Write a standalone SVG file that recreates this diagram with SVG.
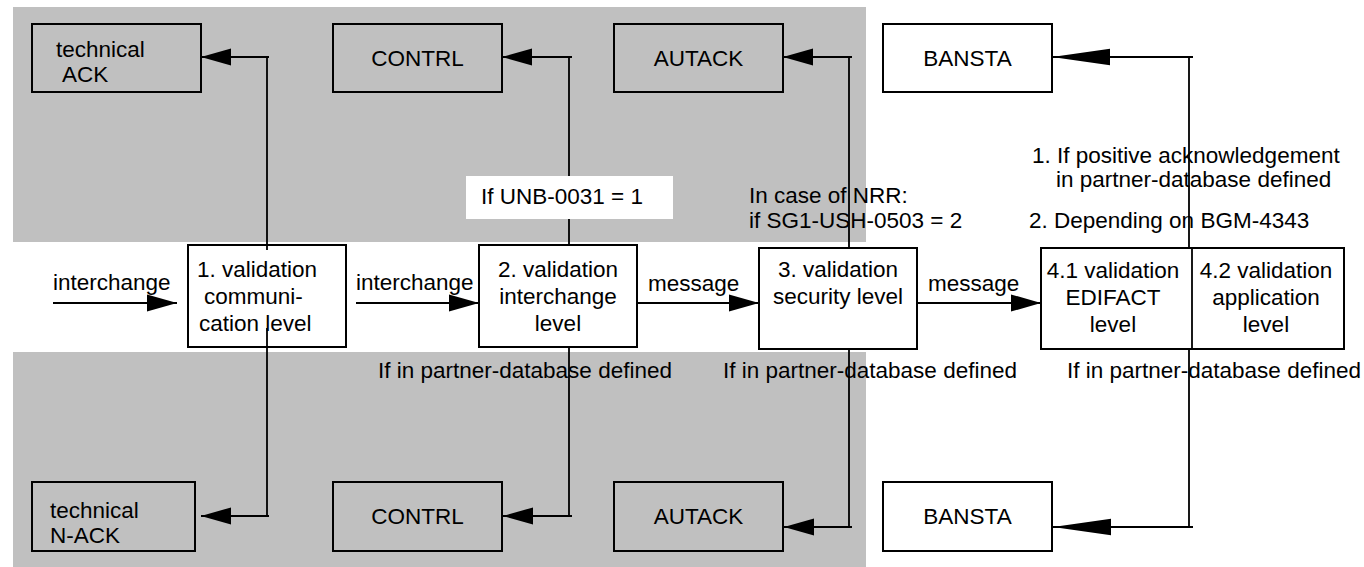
<svg xmlns="http://www.w3.org/2000/svg" width="1364" height="567" viewBox="0 0 1364 567">
<style>
text{font-family:"Liberation Sans",Arial,sans-serif;font-size:22.5px;fill:#000}
.box{fill:none;stroke:#000;stroke-width:2}
.wbox{fill:#fff;stroke:#000;stroke-width:2}
.c{fill:none;stroke:#000;stroke-width:1.8}
.m{text-anchor:middle}
</style>
<defs>
<marker id="arr" markerUnits="userSpaceOnUse" markerWidth="30" markerHeight="18" viewBox="0 0 28 16" refX="28" refY="8" orient="auto"><polygon points="0,0 28,8 0,16" fill="#000"/></marker>
<marker id="arrL" markerUnits="userSpaceOnUse" markerWidth="58" markerHeight="18" viewBox="0 0 56 16" refX="56" refY="8" orient="auto"><polygon points="0,0 56,8 0,16" fill="#000"/></marker>
</defs>
<rect x="13" y="7" width="853" height="235" fill="#c0c0c0"/>
<rect x="13" y="352" width="853" height="215" fill="#c0c0c0"/>

<g id="labels-top">
<text x="749" y="203">In case of NRR:</text>
<text x="749" y="228">if SG1-USH-0503 = 2</text>
<text x="1032" y="163">1. If positive acknowledgement</text>
<text x="1056" y="187">in partner-database defined</text>
<text x="1029" y="228">2. Depending on BGM-4343</text>
</g>
<g id="labels-bottom">
<text x="378" y="378">If in partner-database defined</text>
<text x="723" y="378">If in partner-database defined</text>
<text x="1067" y="378">If in partner-database defined</text>
</g>
<g id="labels-flow">
<text x="53" y="290">interchange</text>
<text x="356" y="290">interchange</text>
<text x="648" y="291">message</text>
<text x="928" y="291">message</text>
</g>

<g id="connectors">
<path class="c" d="M267,250 V57 M269,57 H201" marker-end="url(#arr)"/>
<path class="c" d="M569,245 V57 M572,57 H502" marker-end="url(#arr)"/>
<path class="c" d="M849,249 V57 M852,57 H783" marker-end="url(#arr)"/>
<path class="c" d="M1189,248 V57 M1193,57 H1052" marker-end="url(#arrL)"/>
<path class="c" d="M267,328 V516 M269,516 H201" marker-end="url(#arr)"/>
<path class="c" d="M569,347 V516 M572,516 H503" marker-end="url(#arr)"/>
<path class="c" d="M849,350 V527 M852,527 H784" marker-end="url(#arr)"/>
<path class="c" d="M1189,349 V527 M1193,527 H1053" marker-end="url(#arrL)"/>
<path class="c" d="M53,303 H177" marker-end="url(#arr)"/>
<path class="c" d="M356,303 H479" marker-end="url(#arr)"/>
<path class="c" d="M637,303 H759" marker-end="url(#arr)"/>
<path class="c" d="M917,303 H1041" marker-end="url(#arr)"/>
</g>

<g id="cond-unb">
<rect x="466" y="176" width="207" height="43" fill="#fff"/>
<text x="481" y="204">If UNB-0031 = 1</text>
</g>

<g id="ack-top">
<rect class="box" x="32" y="24" width="169" height="68"/>
<text x="56" y="57">technical</text>
<text x="62" y="82">ACK</text>
</g>
<g id="contrl-top">
<rect class="box" x="333" y="24" width="169" height="68"/>
<text class="m" x="417.5" y="66">CONTRL</text>
</g>
<g id="autack-top">
<rect class="box" x="614" y="24" width="169" height="68"/>
<text class="m" x="698.5" y="66">AUTACK</text>
</g>
<g id="bansta-top">
<rect class="wbox" x="883" y="24" width="169" height="68"/>
<text class="m" x="967.5" y="66">BANSTA</text>
</g>

<g id="val1">
<rect class="wbox" x="188" y="245" width="158" height="102"/>
<text x="197" y="277">1. validation</text>
<text x="204" y="304">communi-</text>
<text x="199" y="331">cation level</text>
<path class="c" d="M267,245 V250 M267,328 V347"/>
</g>
<g id="val2">
<rect class="wbox" x="479" y="245" width="158" height="102"/>
<text class="m" x="558" y="277">2. validation</text>
<text class="m" x="558" y="304">interchange</text>
<text class="m" x="558" y="331">level</text>
</g>
<g id="val3">
<rect class="wbox" x="759" y="248" width="158" height="101"/>
<text class="m" x="838" y="277">3. validation</text>
<text class="m" x="838" y="304">security level</text>
</g>
<g id="val4">
<rect class="wbox" x="1041" y="248" width="303" height="101"/>
<line class="c" x1="1192" y1="248" x2="1192" y2="349"/>
<text class="m" x="1113" y="278">4.1 validation</text>
<text class="m" x="1113" y="305">EDIFACT</text>
<text class="m" x="1113" y="332">level</text>
<text class="m" x="1266" y="278">4.2 validation</text>
<text class="m" x="1266" y="305">application</text>
<text class="m" x="1266" y="332">level</text>
</g>

<g id="nack-bottom">
<rect class="box" x="32" y="482" width="163" height="69"/>
<text x="50" y="518">technical</text>
<text x="50" y="543">N-ACK</text>
</g>
<g id="contrl-bottom">
<rect class="box" x="333" y="482" width="169" height="69"/>
<text class="m" x="417.5" y="524">CONTRL</text>
</g>
<g id="autack-bottom">
<rect class="box" x="614" y="482" width="169" height="69"/>
<text class="m" x="698.5" y="524">AUTACK</text>
</g>
<g id="bansta-bottom">
<rect class="wbox" x="883" y="482" width="169" height="69"/>
<text class="m" x="967.5" y="524">BANSTA</text>
</g>
</svg>
